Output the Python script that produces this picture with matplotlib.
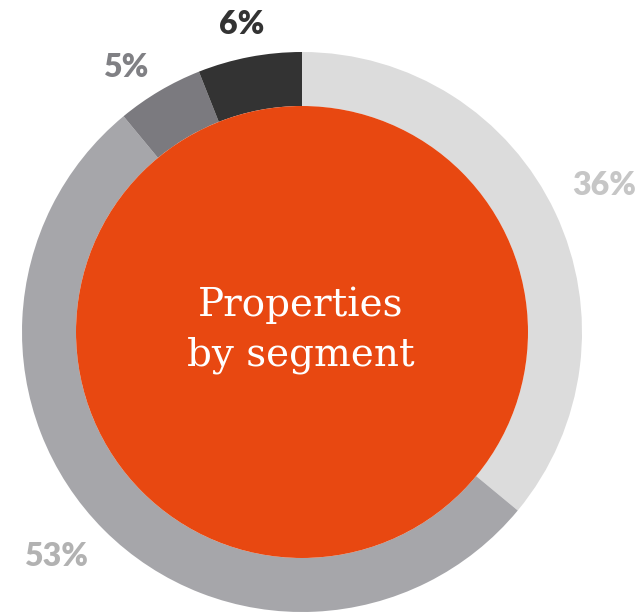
import numpy as np
import matplotlib
matplotlib.use("Agg")
import matplotlib.pyplot as plt
from matplotlib.patches import Circle

# Share of properties by segment, clockwise from 12 o'clock
shares = [36, 53, 5, 6]
labels = ["36%", "53%", "5%", "6%"]
ring_colors = ["#dcdcdc", "#a6a6aa", "#7b7a7f", "#333333"]
label_colors = ["#c6c6c6", "#b2b2b2", "#808084", "#333333"]
label_radius = [1.20, 1.19, 1.135, 1.12]
label_nudge_deg = [0.7, -2.6, 3.2, 0.2]
center_title = "Properties\nby segment"

W, H = 644, 616
fig = plt.figure(figsize=(W / 100, H / 100), dpi=100)
ax = fig.add_axes([0, 0, 1, 1])

cx, cy = 302, H - 332
R_out, R_in = 280, 226

ax.pie(shares, colors=ring_colors, startangle=90, counterclock=False,
       radius=R_out, center=(cx, cy), frame=True,
       wedgeprops=dict(width=R_out - R_in, linewidth=0))
ax.set_xlim(0, W)
ax.set_ylim(0, H)
ax.set_aspect("equal")
ax.axis("off")

ax.add_patch(Circle((cx, cy), R_in, facecolor="#e84811", edgecolor="none", zorder=3))

# percentage labels placed along each wedge's mid-angle
total = sum(shares)
start = 90.0
for s, lab, col, rd, nd in zip(shares, labels, label_colors, label_radius, label_nudge_deg):
    sweep = 360.0 * s / total
    mid = np.deg2rad(start - sweep / 2 + nd)
    start -= sweep
    ax.text(cx + rd * R_out * np.cos(mid), cy + rd * R_out * np.sin(mid), lab,
            ha="center", va="center", fontsize=23, fontweight="heavy",
            family="Lato", color=col, zorder=4)

ax.text(cx - 1, cy + 2, center_title, ha="center", va="center", fontsize=28,
        family="DejaVu Serif", color="white", linespacing=1.42, zorder=4)

fig.savefig("out.png", dpi=100, facecolor="white")
